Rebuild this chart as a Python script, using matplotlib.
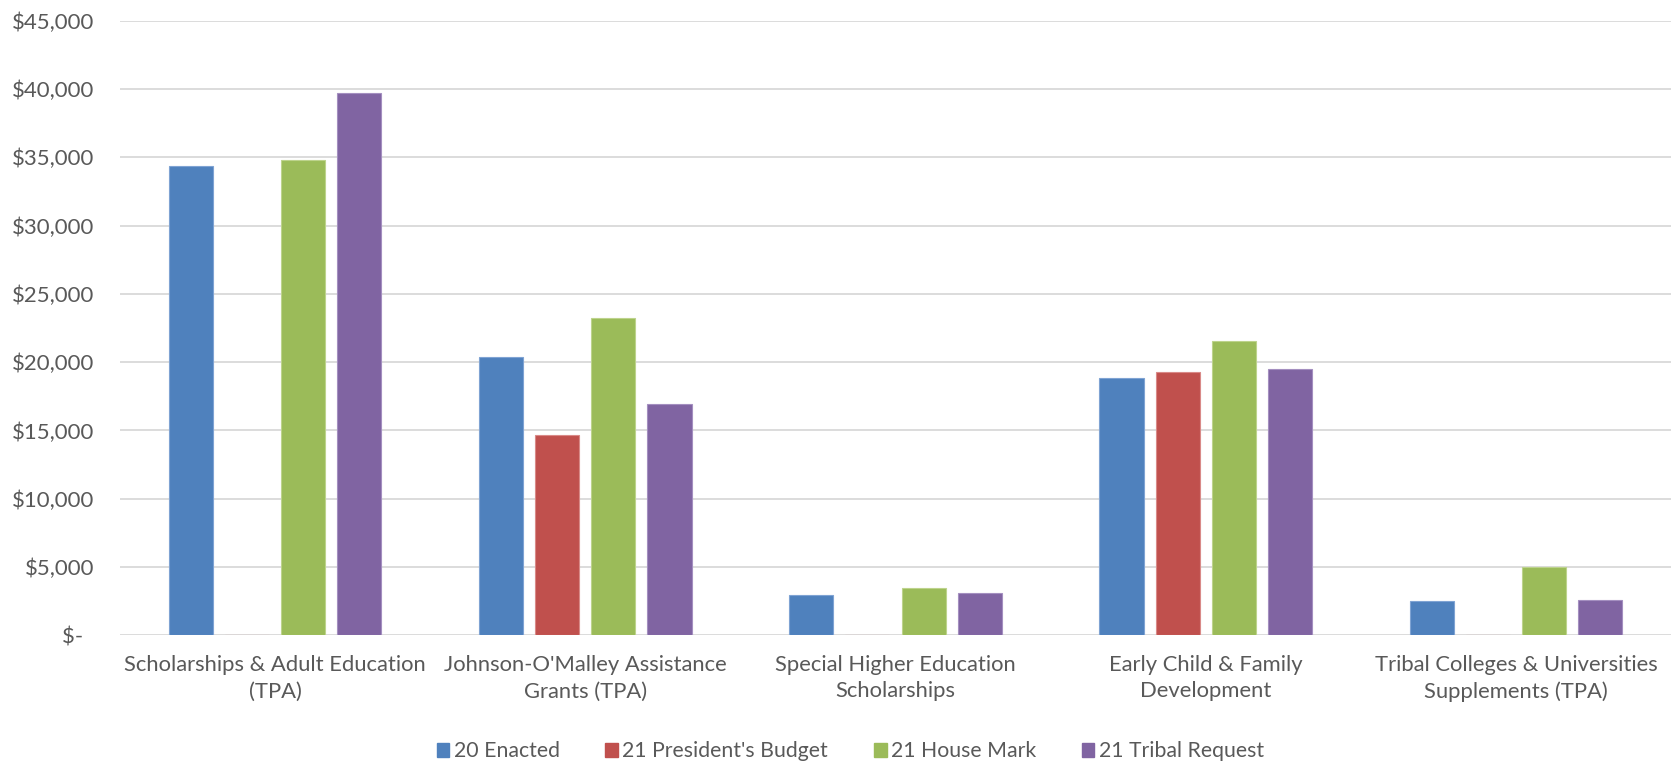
import matplotlib
matplotlib.use("Agg")
import matplotlib.pyplot as plt
from matplotlib.patches import Patch
import numpy as np

categories = [
    "Scholarships & Adult Education\n(TPA)",
    "Johnson-O'Malley Assistance\nGrants (TPA)",
    "Special Higher Education\nScholarships",
    "Early Child & Family\nDevelopment",
    "Tribal Colleges & Universities\nSupplements (TPA)",
]
series_names = ["20 Enacted", "21 President's Budget", "21 House Mark", "21 Tribal Request"]
enacted_20 = [34356, 20351, 2950, 18858, 2489]
presidents_budget_21 = [0, 14641, 0, 19275, 0]
house_mark_21 = [34817, 23215, 3485, 21523, 4970]
tribal_request_21 = [39678, 16910, 3097, 19517, 2613]
yticks = [0, 5000, 10000, 15000, 20000, 25000, 30000, 35000, 40000, 45000]
ytick_labels = ["$-  ", "$5,000", "$10,000", "$15,000", "$20,000", "$25,000",
                "$30,000", "$35,000", "$40,000", "$45,000"]

colors = ["#4F81BD", "#C0504D", "#9BBB59", "#8064A2"]
edge_colors = ["#7FA3D3", "#D98A88", "#BDD38C", "#A48FC0"]
text_color = "#595959"
font = ["Lato", "DejaVu Sans"]
plt.rcParams["font.family"] = font

fig = plt.figure(figsize=(16.77, 7.62), dpi=100)
ax = fig.add_axes([120 / 1677, 1 - 635.3 / 762, (1671 - 120) / 1677, (635.3 - 20.7) / 762])

x = np.arange(len(categories))
pitch = 0.181
width = 0.142
all_series = [enacted_20, presidents_budget_21, house_mark_21, tribal_request_21]
for i, (vals, name) in enumerate(zip(all_series, series_names)):
    ax.bar(x + (i - 1.5) * pitch, vals, width=width, color=colors[i],
           edgecolor=edge_colors[i], linewidth=0.8, label=name, zorder=3)

ax.set_xlim(-0.5, len(categories) - 0.5)
ax.set_ylim(0, 45000)
ax.set_yticks(yticks)
ax.set_yticklabels(ytick_labels)
ax.set_xticks(x)
ax.set_xticklabels(categories, linespacing=1.42)
ax.grid(axis="y", color="#D9D9D9", linewidth=1.3, zorder=0)
ax.set_axisbelow(True)
for s in ax.spines.values():
    s.set_visible(False)
ax.tick_params(axis="both", length=0, labelcolor=text_color)
ax.tick_params(axis="y", pad=18.5, labelsize=16)
ax.tick_params(axis="x", pad=14, labelsize=15.8)

handles = [Patch(facecolor=c, edgecolor=c) for c in colors]
fig.legend(handles, series_names, loc="center", bbox_to_anchor=(0.507, 0.014),
           ncol=4, frameon=False, fontsize=15.3, labelcolor=text_color,
           handlelength=0.6, handleheight=0.6, handletextpad=0.2,
           columnspacing=2.15)

fig.savefig("out.png", dpi=100)
